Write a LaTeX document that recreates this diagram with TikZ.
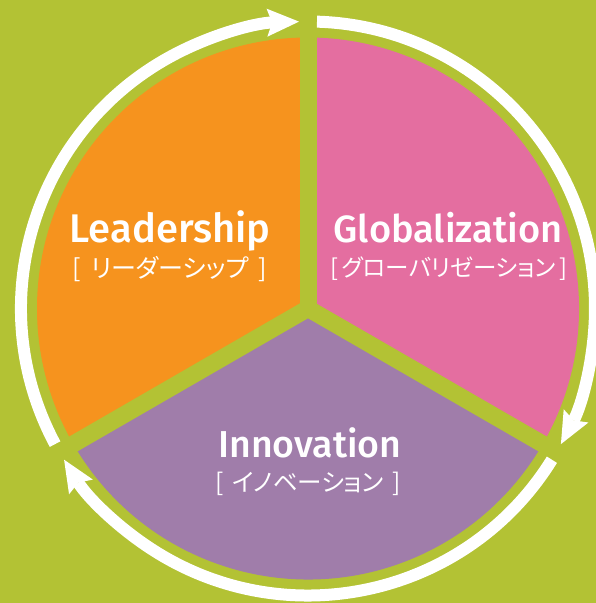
\documentclass[tikz,border=0pt]{standalone}
\usepackage{fontspec}
\setmainfont{Fira Sans Medium}
\newfontfamily\jpfont[RawFeature=+palt]{Noto Sans CJK JP}
\usetikzlibrary{arrows.meta,calc}

\definecolor{leafgreen}{HTML}{B3C234}
\definecolor{sunorange}{HTML}{F6931E}
\definecolor{rosepink}{HTML}{E46EA0}
\definecolor{lilac}{HTML}{A07DAA}

\begin{document}
\begin{tikzpicture}[x=1pt, y=1pt,
    gapline/.style ={leafgreen, line width=17pt},
    halo/.style ={leafgreen, line width=22pt,
      -{Stealth[length=32pt, width=28pt, inset=5pt, line width=20pt, round]}},
    cyclearrow/.style ={white, line width=12pt,
      -{Stealth[length=32pt, width=28pt, inset=5pt, line width=0pt]}},
    title/.style ={text=white, font=\fontsize{#1}{#1}\selectfont, anchor=base},
    subtitle/.style ={text=white, font=\jpfont\fontsize{#1}{#1}\selectfont}]
   \useasboundingbox[fill=leafgreen] (0,0) rectangle (596,603);
   \coordinate (C) at (308,294.5);

   \fill[sunorange] (C) -- ($(C)+(90:271)$) arc[start angle=90, end angle=210, radius=271] -- cycle;
   \fill[rosepink] (C) -- ($(C)+(-30:271)$) arc[start angle=-30, end angle=90, radius=271] -- cycle;
   \fill[lilac] (C) -- ($(C)+(210:271)$) arc[start angle=210, end angle=330, radius=271] -- cycle;

   \foreach \a in {90,210,330}
     \draw[gapline] (C) -- ($(C)+(\a:280)$);

   % green rim under the arrows, then the arrows
   \foreach \s/\e in {208.2/91.8, 88.2/-28.2, -31.8/-148.2}
     \draw[halo] ($(C)+(\s:287)$) arc[start angle=\s, end angle=\e-2, radius=287];
   \foreach \s/\e in {208.2/91.8, 88.2/-28.2, -31.8/-148.2}
     \draw[cyclearrow] ($(C)+(\s:287)$) arc[start angle=\s, end angle=\e, radius=287];

   \node[title=40] (lead) at (170,360) {Leadership};
   \node[subtitle=25] (lead-jp) at (170,334) {[\hspace{10pt}リーダーシップ\hspace{10pt}]};
   \node[title=38] (glob) at (448,360) {Globalization};
   \node[subtitle=23.5] (glob-jp) at (449,334) {[\hspace{3pt}グローバリゼーション\hspace{3pt}]};
   \node[title=37.5] (inno) at (310,145) {Innovation};
   \node[subtitle=24.5] (inno-jp) at (308,119) {[\hspace{8pt}イノベーション\hspace{8pt}]};
 \end{tikzpicture}
\end{document}
